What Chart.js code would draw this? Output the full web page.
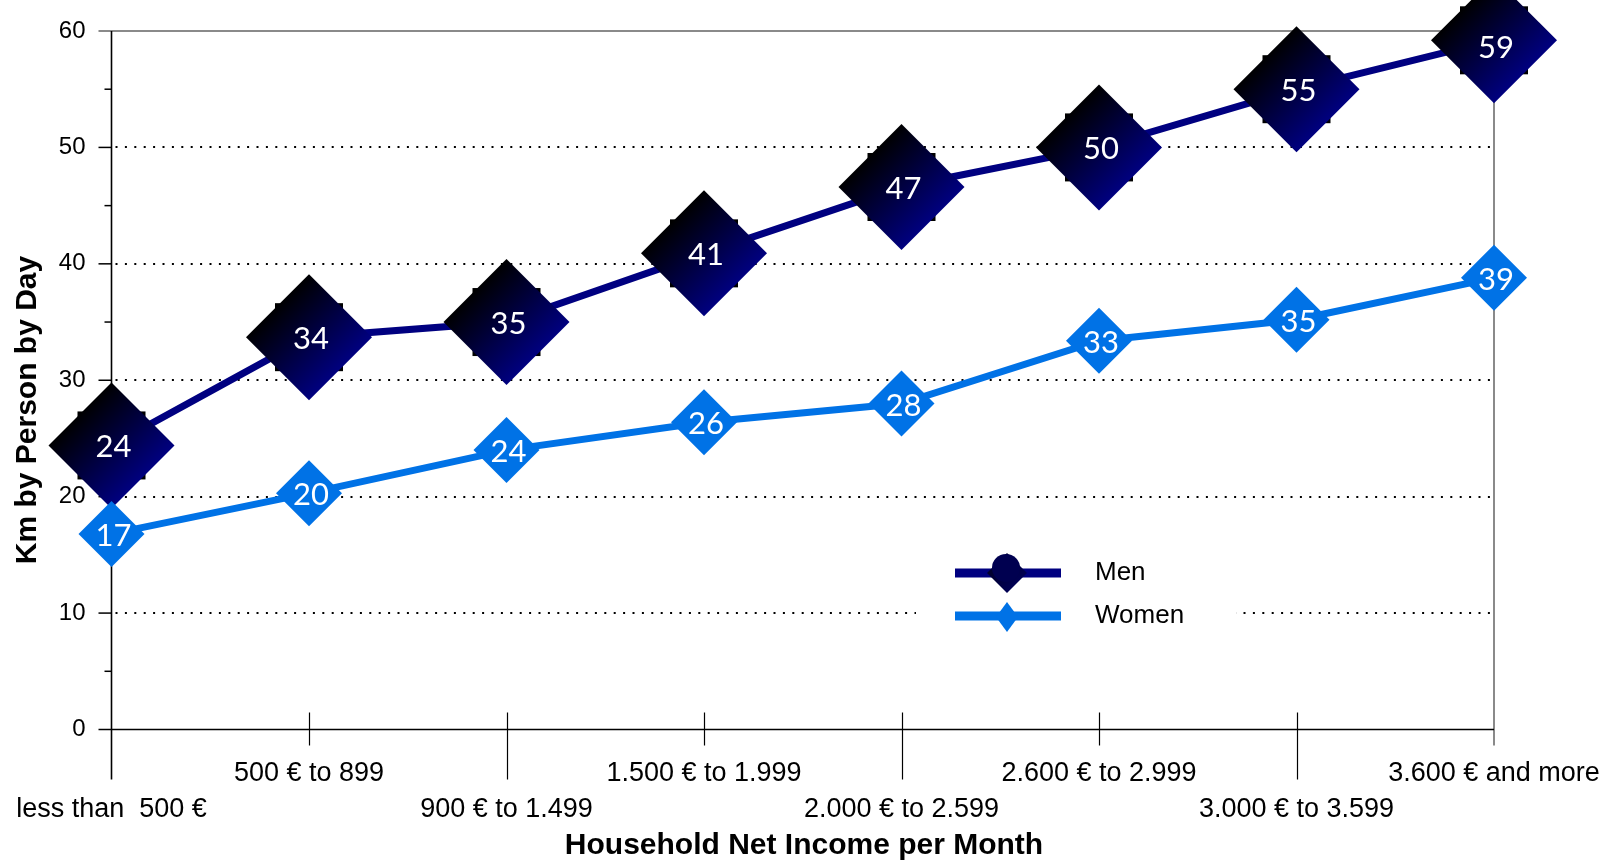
<!DOCTYPE html>
<html>
<head>
<meta charset="utf-8">
<script src="https://cdn.jsdelivr.net/npm/chart.js@4/dist/chart.umd.min.js"></script>
<style>
html, body { margin: 0; padding: 0; background: #fff; }
</style>
</head>
<body>
<canvas id="kmChart" width="1618" height="862"></canvas>
<script>
var incomeLabels = ["less than  500 €", "500 € to 899", "900 € to 1.499", "1.500 € to 1.999",
    "2.000 € to 2.599", "2.600 € to 2.999", "3.000 € to 3.599", "3.600 € and more"];
var menKm = [24.4, 33.7, 35.0, 40.9, 46.6, 50.0, 55.0, 59.2];
var womenKm = [16.8, 20.3, 24.0, 26.4, 28.0, 33.4, 35.2, 38.8];
var yTicks = [0, 10, 20, 30, 40, 50, 60];
var seriesNames = ["Men", "Women"];

var navy = '#000080';
var blue = '#0072e6';

function menGradient(c, px, py) {
    if (!isFinite(px) || !isFinite(py)) return navy;
    var g = c.createLinearGradient(px - 32, py - 32, px + 32, py + 32);
    g.addColorStop(0, '#000000');
    g.addColorStop(1, navy);
    return g;
}

// axis lines, ticks and dotted grid like the original
var frame = {
    id: 'frame',
    beforeDatasetsDraw: function (chart) {
        var c = chart.ctx, x = chart.scales.x, y = chart.scales.y, a = chart.chartArea;
        c.save();
        c.strokeStyle = '#000';
        c.lineWidth = 2;
        c.setLineDash([2, 7.4]);
        yTicks.forEach(function (v) {
            if (v === 0 || v === 60) return;
            var py = Math.round(y.getPixelForValue(v));
            c.beginPath(); c.moveTo(a.left + 4, py); c.lineTo(a.right, py); c.stroke();
        });
        c.setLineDash([]);

        // grey top + right border
        var top = y.getPixelForValue(60), bot = y.getPixelForValue(0);
        c.strokeStyle = '#8a8a8a';
        c.lineWidth = 2;
        c.beginPath();
        c.moveTo(a.left - 13, top); c.lineTo(a.right, top); c.lineTo(a.right, bot + 16);
        c.stroke();

        c.strokeStyle = '#000';
        c.lineWidth = 1.5;
        // y axis ticks
        for (var v = 0; v < 60; v += 5) {
            var py = y.getPixelForValue(v);
            c.beginPath(); c.moveTo(a.left - (v % 10 === 0 ? 13 : 7), py); c.lineTo(a.left, py); c.stroke();
        }
        // x ticks, alternate long/short
        c.lineWidth = 1.2;
        for (var i = 1; i < incomeLabels.length - 1; i++) {
            var px = Math.round(x.getPixelForValue(i)) + 0.5;
            c.beginPath(); c.moveTo(px, bot - 17); c.lineTo(px, bot + (i % 2 ? 16 : 50)); c.stroke();
        }
        // axes
        c.lineWidth = 1.6;
        c.beginPath(); c.moveTo(a.left, top); c.lineTo(a.left, bot + 50); c.stroke();
        c.beginPath(); c.moveTo(a.left, bot); c.lineTo(a.right, bot); c.stroke();
        c.restore();
    },
    beforeDatasetDraw: function (chart, args) {
        if (args.index !== 0) return;
        var c = chart.ctx;
        c.save();
        c.fillStyle = '#000';
        chart.getDatasetMeta(0).data.forEach(function (pt) {
            c.fillRect(pt.x - 34, pt.y - 34, 68, 68);
        });
        c.restore();
    },
    afterDatasetsDraw: function (chart) {
        var c = chart.ctx;
        c.save();
        c.fillStyle = '#fff';
        c.textAlign = 'center';
        c.textBaseline = 'middle';
        c.font = '31px Lato';
        chart.data.datasets.forEach(function (ds, i) {
            chart.getDatasetMeta(i).data.forEach(function (pt, j) {
                // labels are kept inside the canvas, like the original
                c.fillText(String(Math.round(ds.data[j])), pt.x + 2, Math.max(pt.y + 2, 48));
            });
        });
        c.restore();
    },
    afterDraw: function (chart) {
        var c = chart.ctx;
        c.save();
        // legend
        c.fillStyle = '#fff';
        c.fillRect(916, 522, 320, 130);
        c.lineCap = 'butt';
        c.lineWidth = 9;
        c.strokeStyle = navy;
        c.beginPath(); c.moveTo(955, 573); c.lineTo(1061, 573); c.stroke();
        c.strokeStyle = blue;
        c.beginPath(); c.moveTo(955, 616); c.lineTo(1061, 616); c.stroke();

        c.fillStyle = menGradient(c, 1007, 573);
        c.beginPath();
        c.moveTo(1007, 553); c.lineTo(1027, 573); c.lineTo(1007, 593); c.lineTo(987, 573);
        c.closePath(); c.fill();
        c.fillStyle = '#000050';
        c.beginPath(); c.arc(1006, 568, 14, 0, Math.PI * 2); c.fill();

        c.fillStyle = blue;
        c.beginPath();
        c.moveTo(1007, 602); c.lineTo(1018, 617); c.lineTo(1007, 632); c.lineTo(996, 617);
        c.closePath(); c.fill();

        c.fillStyle = '#000';
        c.font = '26px "Liberation Sans", Arial, sans-serif';
        c.textAlign = 'left';
        c.textBaseline = 'middle';
        c.fillText(seriesNames[0], 1095, 573);
        c.fillText(seriesNames[1], 1095, 616);

        // axis titles
        c.font = 'bold 30px "Liberation Sans", Arial, sans-serif';
        c.textAlign = 'center';
        c.fillText('Household Net Income per Month', 804, 846);
        c.translate(28, 410);
        c.rotate(-Math.PI / 2);
        c.fillText('Km by Person by Day', 0, 0);
        c.restore();
    }
};

// invisible grid: only used to push the tick labels away from the axis
function hiddenGrid(len) {
    return { display: true, drawOnChartArea: false, drawTicks: true, tickLength: len, color: 'rgba(0,0,0,0)' };
}

var ctx = document.getElementById('kmChart');
var kmChart = new Chart(ctx, {
    type: 'line',
    data: {
        labels: incomeLabels,
        datasets: [{
            label: seriesNames[0],
            data: menKm,
            order: 1,
            borderColor: navy,
            borderWidth: 7,
            tension: 0,
            clip: false,
            pointStyle: 'rectRot',
            pointRadius: 63,
            pointBorderWidth: 0,
            pointBackgroundColor: function (c) {
                var ch = c.chart;
                if (c.type !== 'data' || !ch.scales.y) return navy;
                return menGradient(ch.ctx, ch.scales.x.getPixelForValue(c.dataIndex),
                    ch.scales.y.getPixelForValue(menKm[c.dataIndex]));
            }
        }, {
            label: seriesNames[1],
            data: womenKm,
            order: 0,
            borderColor: blue,
            borderWidth: 7,
            tension: 0,
            clip: false,
            pointStyle: 'rectRot',
            pointRadius: 33,
            pointBorderWidth: 0,
            pointBackgroundColor: blue
        }]
    },
    options: {
        responsive: false,
        animation: false,
        events: [],
        layout: { autoPadding: false, padding: { top: 31, right: 124, left: 0, bottom: 0 } },
        plugins: { legend: { display: false }, tooltip: { enabled: false } },
        scales: {
            x: {
                offset: false,
                grid: hiddenGrid(26.5),
                border: { display: false },
                afterFit: function (s) { s.height = 132.5; },
                ticks: {
                    autoSkip: false,
                    maxRotation: 0,
                    padding: 0,
                    color: '#000',
                    font: { family: '"Liberation Sans", Arial, sans-serif', size: 27, lineHeight: 1.333 },
                    callback: function (v, i) {
                        return i % 2 ? [incomeLabels[i]] : ['', incomeLabels[i]];
                    }
                }
            },
            y: {
                min: 0,
                max: 60,
                grid: hiddenGrid(26),
                border: { display: false },
                afterFit: function (s) { s.width = 111.5; },
                ticks: {
                    stepSize: 10,
                    padding: 0,
                    color: '#000',
                    font: { family: '"Liberation Sans", Arial, sans-serif', size: 24 }
                }
            }
        }
    },
    plugins: [frame]
});
</script>
</body>
</html>
